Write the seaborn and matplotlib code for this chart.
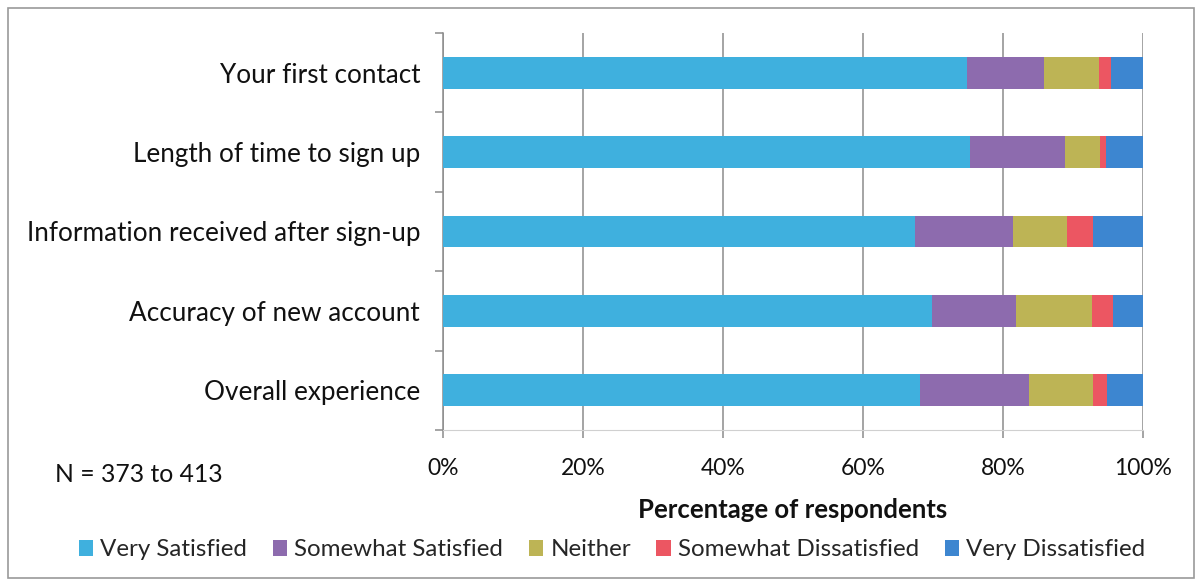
import numpy as np
import pandas as pd
import matplotlib
matplotlib.use("Agg")
import matplotlib.pyplot as plt
from matplotlib.patches import Rectangle, Patch
from matplotlib.ticker import FixedLocator, FuncFormatter
import seaborn as sns

# Survey items and response shares (percent of respondents)
categories = ["Your first contact", "Length of time to sign up",
              "Information received after sign-up", "Accuracy of new account",
              "Overall experience"]
very_satisfied = [74.8, 75.3, 67.4, 69.8, 68.2]
somewhat_satisfied = [11.1, 13.6, 14.0, 12.0, 15.5]
neither = [7.8, 4.9, 7.8, 10.9, 9.1]
somewhat_dissatisfied = [1.8, 0.9, 3.7, 3.0, 2.1]
very_dissatisfied = [4.5, 5.3, 7.1, 4.3, 5.1]

series_names = ["Very Satisfied", "Somewhat Satisfied", "Neither",
                "Somewhat Dissatisfied", "Very Dissatisfied"]
series_values = [very_satisfied, somewhat_satisfied, neither,
                 somewhat_dissatisfied, very_dissatisfied]
colors = ["#3fb0de", "#8d6bae", "#bdb455", "#ec5662", "#3d86d0"]
x_ticks = [0, 20, 40, 60, 80, 100]

sns.set_theme(style="white")
plt.rcParams["font.family"] = ["Lato", "DejaVu Sans"]

fig = plt.figure(figsize=(11.97, 5.84), dpi=100)
ax = fig.add_axes([443 / 1197, 1 - 430 / 584, 700 / 1197, 397 / 584])

# Stacked bars: draw cumulative totals from the outermost segment inward
cum = np.cumsum(np.array(series_values), axis=0)
for i in range(len(series_names) - 1, -1, -1):
    df = pd.DataFrame({"category": categories, "value": cum[i]})
    sns.barplot(data=df, x="value", y="category", orient="h", color=colors[i],
                width=0.4, saturation=1, ax=ax, zorder=3, linewidth=0)

ax.set_xlim(0, 100)
ax.set_ylim(len(categories) - 0.5, -0.5)
ax.xaxis.set_major_locator(FixedLocator(x_ticks))
ax.xaxis.set_major_formatter(FuncFormatter(lambda v, p: f"{v:.0f}%"))
ax.grid(axis="x", color="#8c8c8c", linewidth=1.1, zorder=0)
ax.set_axisbelow(True)

for side in ["top", "right"]:
    ax.spines[side].set_visible(False)
ax.spines["left"].set_color("#8c8c8c")
ax.spines["left"].set_linewidth(1.1)
ax.spines["bottom"].set_color("#d0d0d0")
ax.spines["bottom"].set_linewidth(0.8)

ax.tick_params(axis="y", which="major", length=0, pad=16.5, labelsize=18.8,
               labelcolor="#111111")
ax.yaxis.set_minor_locator(FixedLocator(np.arange(-0.5, len(categories), 1.0)))
ax.tick_params(axis="y", which="minor", length=6, width=1.1, color="#8c8c8c",
               left=True)
ax.tick_params(axis="x", which="major", length=6, width=1.1, color="#8c8c8c",
               bottom=True, pad=14, labelsize=16.5, labelcolor="#111111")

ax.set_ylabel("")
ax.set_xlabel("Percentage of respondents", fontsize=18.5, fontweight="bold",
              labelpad=14, color="#111111")

fig.text(55 / 1197, 1 - 475 / 584, "N = 373 to 413", fontsize=17.8,
         va="center", ha="left", color="#111111")

handles = [Patch(facecolor=c, edgecolor="none") for c in colors]
fig.legend(handles, series_names, loc="center", ncol=5,
           bbox_to_anchor=(612 / 1197, 1 - 550 / 584), frameon=False,
           fontsize=17.4, handlelength=0.6, handleheight=0.6,
           handletextpad=0.3, columnspacing=1.05)

# Chart-area border
fig.patches.append(Rectangle((8 / 1197, 6 / 584), 1186 / 1197, 570 / 584,
                             transform=fig.transFigure, fill=False,
                             edgecolor="#9a9a9a", linewidth=1.2))

fig.savefig("out.png", dpi=100, facecolor="white")
